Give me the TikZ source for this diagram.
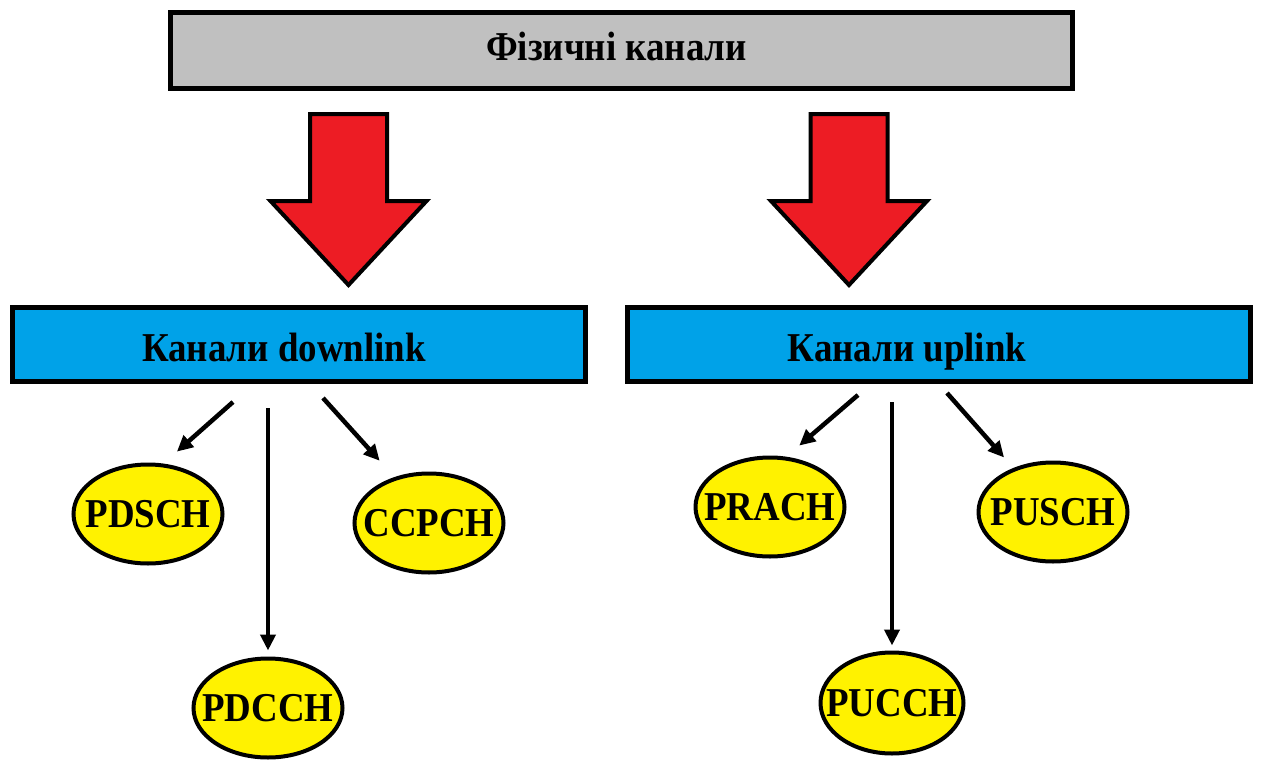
\documentclass[tikz,border=0pt]{standalone}
\usepackage{fontspec}
\setmainfont[FakeStretch=0.9]{Liberation Serif}
\usetikzlibrary{arrows.meta,shapes.geometric}
\definecolor{titlegray}{RGB}{192,192,192}
\definecolor{linkblue}{RGB}{0,162,232}
\definecolor{chanyellow}{RGB}{255,242,0}
\definecolor{bigred}{RGB}{237,28,36}
\newcommand\chname[1]{\makebox[0pt]{#1}}

\begin{document}
\begin{tikzpicture}[
    x=1pt, y=-1pt,
    bigfont/.style={font=\fontsize{41}{44}\selectfont\bfseries},
    titlebox/.style={draw=black, line width=5pt, fill=titlegray, inner sep=0pt},
    linkbox/.style={draw=black, line width=5pt, fill=linkblue, inner sep=0pt,
        minimum height=74pt},
    boxtext/.style={bigfont, inner sep=0pt, anchor=base},
    channel/.style={ellipse, draw=black, line width=4pt, fill=chanyellow,
        inner sep=0pt, minimum width=149pt, minimum height=99pt, bigfont},
    blockarrow/.style={draw=black, line width=4pt, fill=bigred, line join=miter},
    arr/.style={line width=4.5pt, -{Triangle[length=16pt, width=15pt]}},
]
    \useasboundingbox (0,0) rectangle (1262,760);

    %% the physical channels, on top
    \node[titlebox, minimum width=902pt, minimum height=76pt] (phys) at (621.5,50.5) {};
    \node[boxtext] (phys-text) at (616.5,61) {Фізичні канали};

    %% the two big red arrows
    \foreach \cx in {348.5, 849}
        \draw[blockarrow] ({\cx-38.5},114) -- ({\cx+38.5},114) -- ({\cx+38.5},201)
            -- ({\cx+78},201) -- (\cx,285) -- ({\cx-78},201) -- ({\cx-38.5},201) -- cycle;

    %% downlink and uplink
    \node[linkbox, minimum width=573pt] (dl) at (299,344.5) {};
    \node[boxtext] (dl-text) at (284,361) {Канали downlink};
    \node[linkbox, minimum width=623pt] (ul) at (939,344.5) {};
    \node[boxtext] (ul-text) at (907,361) {Канали uplink};

    %% the channels
    \node[channel] (pdsch) at (148,514) {\chname{PDSCH}};
    \node[channel] (ccpch) at (429,523) {\chname{CCPCH}};
    \node[channel] (pdcch) at (268,708) {\chname{PDCCH}};
    \node[channel] (prach) at (770,507) {\chname{PRACH}};
    \node[channel] (pusch) at (1053,512) {\chname{PUSCH}};
    \node[channel, minimum width=143pt, minimum height=101pt] (pucch) at (892,703) {\chname{PUCCH}};

    %% the arrows start just below the boxes
    \coordinate (dl-l) at (233,402);
    \coordinate (dl-m) at (268,408);
    \coordinate (dl-r) at (323,398);
    \coordinate (ul-l) at (858,395);
    \coordinate (ul-m) at (892,402);
    \coordinate (ul-r) at (947,393);
    \draw[arr, shorten >=18pt] (dl-l) -- (pdsch.73);
    \draw[arr, shorten >=6pt] (dl-m) -- (pdcch.north);
    \draw[arr, shorten >=22pt] (dl-r) -- (ccpch.127);
    \draw[arr, shorten >=17pt] (ul-l) -- (prach.72);
    \draw[arr, shorten >=5pt] (ul-m) -- (pucch.north);
    \draw[arr, shorten >=14pt] (ul-r) -- (pusch.132);
\end{tikzpicture}
\end{document}
